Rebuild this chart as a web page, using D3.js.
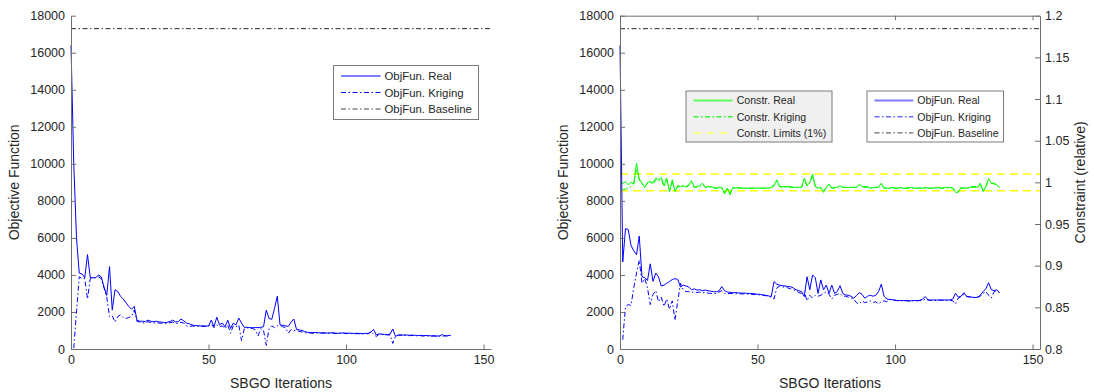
<!DOCTYPE html>
<html>
<head>
<meta charset="utf-8">
<script src="https://cdn.jsdelivr.net/npm/d3@7"></script>
<style>
  html, body { margin: 0; padding: 0; background: #fff; }
  svg { display: block; font-family: "Liberation Sans", Arial, sans-serif; }
</style>
</head>
<body>
<svg id="chart" width="1094" height="392"></svg>
<script>
// ---- data (iteration index = array position) ----
const xTicks = [0, 50, 100, 150];
const objTicks = [0, 2000, 4000, 6000, 8000, 10000, 12000, 14000, 16000, 18000];
const conTicks = [0.8, 0.85, 0.9, 0.95, 1, 1.05, 1.1, 1.15, 1.2];
const conTickLabels = ["0.8", "0.85", "0.9", "0.95", "1", "1.05", "1.1", "1.15", "1.2"];

const baselineObj = 17300;
const conLimits = [0.99, 1.01];

// run A (left panel)
const objRealA = [16400,10000,6000,4100,4050,3850,5100,3850,3850,3850,
 4000,3900,3350,2900,4450,2100,3200,3100,2850,2700,
 2500,2300,2150,2300,1550,1500,1500,1480,1560,1500,
 1470,1500,1460,1450,1430,1440,1480,1560,1460,1480,
 1620,1520,1400,1360,1300,1270,1260,1250,1250,1240,
 1240,1560,1200,1720,1300,1400,1200,1560,1110,1400,
 1300,1670,1400,1170,1170,1160,1150,1160,1150,1170,
 1200,2100,1650,1600,2200,2850,1300,1280,1250,1220,
 1450,1620,1060,1030,1000,940,900,890,880,900,
 880,870,880,860,870,880,860,850,860,870,
 850,860,850,840,850,840,830,850,840,900,
 1060,760,820,800,790,780,800,1080,680,760,
 760,750,760,740,750,740,730,740,720,730,
 720,710,720,700,710,780,700,720,740];

const objKrigA = [null,50,2000,3900,3800,3800,2700,3800,3850,3850,
 3900,3800,3300,2800,1750,1800,1450,1750,1850,1700,
 1650,1700,1750,2100,1500,1450,1420,1400,1480,1420,
 1400,1430,1400,1390,1380,1400,1420,1450,1400,1380,
 1450,1400,1250,1200,1250,1220,1220,1230,1220,1220,
 1230,1350,1150,1300,1200,1250,1100,1300,850,1250,
 1200,1300,450,1100,1150,1120,1100,1050,700,1100,
 1000,200,1100,1250,1150,1250,1280,1200,1150,850,
 1050,1000,1000,950,920,880,870,860,850,870,
 860,850,860,840,850,860,840,830,840,850,
 830,840,830,820,830,820,810,830,820,950,
 800,670,800,780,770,760,760,300,700,740,
 740,730,740,720,730,720,710,720,700,710,
 700,690,700,680,690,680,720,700,720];

// run B (right panel)
const objRealB = [16400,4700,6500,6450,5600,5300,5100,6100,3900,3850,
 3700,4600,3650,4100,3900,3400,3450,3550,3650,3750,
 3800,3760,3350,3450,3400,3350,3200,3250,3180,3200,
 3150,3180,3150,3120,3100,3090,3150,3370,3150,3080,
 3060,3040,3050,3030,3020,3020,3010,3000,2990,2980,
 2960,2950,2920,2900,2870,2830,3640,3500,3450,3420,
 3400,3380,3360,3300,3200,3150,3100,2830,3900,3200,
 4000,3850,3000,3730,3200,3450,3000,3450,3000,3100,
 3420,3000,2920,2900,2850,2740,2900,3040,2950,2740,
 2850,2900,2850,2900,3100,3500,2850,2700,2680,2660,
 2640,2610,2620,2610,2620,2600,2610,2620,2610,2630,
 2700,2830,2650,2640,2650,2640,2650,2640,2650,2640,
 2650,2700,3010,2800,2850,3040,2850,2820,2800,2780,
 2800,2900,3100,3250,3580,3200,3150,3200,3040];

const objKrigB = [null,500,2300,2400,2350,3300,4100,4800,3550,3800,
 3300,2400,2950,3150,2550,2800,2300,2700,2150,2600,
 1550,2600,3550,3200,3100,3100,3050,3100,3050,3080,
 3030,3060,3020,3000,3010,3000,3080,3150,3000,2980,
 3000,3000,2980,2990,2980,2970,2980,2960,2950,2940,
 2930,2920,2900,2880,2850,2800,2700,3300,3400,3350,
 3350,3300,3250,3200,3150,3050,3000,3100,2600,2900,
 2750,2900,2850,2900,3000,3100,2950,2700,2900,2950,
 3000,2850,2850,2800,2750,2700,2500,2430,2600,2500,
 2550,2600,2520,2550,2430,2550,2600,2550,2670,2650,
 2630,2610,2620,2600,2610,2590,2600,2610,2600,2620,
 2600,2700,2640,2630,2640,2630,2640,2630,2640,2630,
 2640,2600,2430,2750,2830,2950,2830,2810,2790,2770,
 2790,2850,3000,3100,2900,2750,3100,3150,3040];

const conReal = [1.0008,0.9985,1.001,0.997,1.000,0.998,1.023,1.004,0.999,0.994,
 1.000,1.001,0.999,1.005,1.003,1.006,0.996,1.005,0.989,1.003,
 0.989,0.996,0.995,0.996,0.995,0.997,1.002,0.994,0.995,0.996,
 0.999,0.994,0.995,0.995,0.994,0.993,0.994,0.994,0.986,0.993,
 0.985,0.994,0.993,0.994,0.993,0.993,0.993,0.993,0.993,0.993,
 0.993,0.993,0.993,0.993,0.993,0.994,0.997,1.003,0.995,0.995,
 0.995,0.995,0.995,0.994,0.994,0.994,0.994,1.005,0.996,1.000,
 1.010,0.995,0.993,0.994,0.988,0.994,0.998,0.993,0.994,0.994,
 0.996,0.994,0.994,0.994,0.994,0.994,0.994,0.998,0.995,0.995,
 0.995,0.993,0.994,0.994,0.994,0.999,0.993,0.993,0.993,0.994,
 0.993,0.993,0.994,0.993,0.993,0.994,0.994,0.993,0.993,0.993,
 0.993,0.994,0.993,0.993,0.993,0.994,0.994,0.993,0.994,0.994,
 0.994,0.993,0.988,0.988,0.994,0.993,0.993,0.994,0.995,0.995,
 0.994,0.999,0.989,0.995,1.0045,0.999,0.999,0.997,0.994];

const conKrig = [null,0.991,0.992,0.993,0.995,0.998,1.015,1.003,0.998,0.995,
 0.999,1.000,0.998,1.003,1.002,1.004,0.995,1.003,0.990,1.001,
 0.990,0.995,0.994,0.995,0.994,0.996,1.000,0.994,0.994,0.995,
 0.997,0.994,0.994,0.994,0.993,0.993,0.993,0.993,0.988,0.993,
 0.987,0.993,0.993,0.993,0.993,0.993,0.993,0.993,0.993,0.993,
 0.993,0.993,0.993,0.993,0.993,0.993,0.996,1.001,0.995,0.994,
 0.994,0.994,0.994,0.994,0.994,0.994,0.994,1.003,0.996,0.999,
 1.007,0.995,0.993,0.993,0.990,0.993,0.997,0.993,0.993,0.994,
 0.995,0.994,0.994,0.994,0.994,0.994,0.994,0.997,0.995,0.994,
 0.994,0.993,0.993,0.994,0.994,0.998,0.993,0.993,0.993,0.993,
 0.993,0.993,0.993,0.993,0.993,0.993,0.993,0.993,0.993,0.993,
 0.993,0.993,0.993,0.993,0.993,0.993,0.993,0.993,0.993,0.993,
 0.993,0.993,0.990,0.989,0.993,0.993,0.993,0.993,0.994,0.994,
 0.994,0.998,0.990,0.994,1.003,0.999,0.998,0.996,0.994];

// ---- styles ----
const BLUE = "#0000ff", GREEN = "#00ff00", YELLOW = "#ffff00", BASE = "#262626";
const AXIS = "#6e6e6e", TEXT = "#262626";
const DASHDOT = "5,2.5,1.5,2.5";
const DASHED = "8,5";

const svg = d3.select("#chart");
const xMax = 152.7;
const plotTop = 15.7, plotBottom = 349;

function styleAxis(g) {
  g.select(".domain").attr("stroke", AXIS).attr("stroke-width", 1);
  g.selectAll(".tick line").attr("stroke", AXIS);
  g.selectAll(".tick text").attr("fill", TEXT).style("font-size", "12.5px")
    .style("font-family", "'Liberation Sans', Arial, sans-serif");
}

function drawLine(g, data, x, y, color, dash, width) {
  const line = d3.line()
    .defined(d => d != null)
    .x((d, i) => x(i))
    .y(d => y(d));
  g.append("path")
    .attr("d", line(data))
    .attr("fill", "none")
    .attr("stroke", color)
    .attr("stroke-width", width || 1)
    .attr("stroke-dasharray", dash || null)
    .attr("stroke-linejoin", "round");
}

// boxed legend: opts = {x, y, w, h, fill, font, first, step, textDx}
function legend(g, o, items) {
  const lg = g.append("g");
  lg.append("rect").attr("x", o.x).attr("y", o.y).attr("width", o.w).attr("height", o.h)
    .attr("fill", o.fill).attr("stroke", "#7a7a7a").attr("stroke-width", 1);
  items.forEach((it, k) => {
    const yy = o.y + o.first + k * o.step;
    lg.append("line").attr("x1", o.x + 7.5).attr("x2", o.x + o.textDx - 4).attr("y1", yy).attr("y2", yy)
      .attr("stroke", it.color).attr("stroke-width", it.width)
      .attr("stroke-dasharray", it.dash || null);
    lg.append("text").attr("x", o.x + o.textDx).attr("y", yy + o.font * 0.36)
      .attr("fill", TEXT).style("font-size", o.font + "px").text(it.label);
  });
}

function yLabel(x, text, rot) {
  svg.append("text")
    .attr("transform", `translate(${x},${(plotTop + plotBottom) / 2}) rotate(${rot})`)
    .attr("text-anchor", "middle")
    .attr("fill", TEXT).style("font-size", "14px").text(text);
}

// ================= left panel =================
{
  const x = d3.scaleLinear([0, xMax], [71, 491]);
  const y = d3.scaleLinear([0, 18000], [plotBottom, plotTop]);
  const g = svg.append("g");

  g.append("line").attr("x1", x(0)).attr("x2", x(xMax)).attr("y1", y(baselineObj)).attr("y2", y(baselineObj))
    .attr("stroke", BASE).attr("stroke-dasharray", DASHDOT);
  drawLine(g, objKrigA, x, y, BLUE, DASHDOT, 1);
  drawLine(g, objRealA, x, y, BLUE, null, 1);

  g.append("g").attr("transform", `translate(0,${plotBottom})`)
    .call(d3.axisBottom(x).tickValues(xTicks).tickSizeInner(-4.5).tickSizeOuter(0).tickPadding(6).tickFormat(d3.format("d")))
    .call(styleAxis);
  g.append("g").attr("transform", `translate(71,0)`)
    .call(d3.axisLeft(y).tickValues(objTicks).tickSizeInner(-5).tickSizeOuter(0).tickPadding(6).tickFormat(d3.format("d")))
    .call(styleAxis);

  legend(g, { x: 333.5, y: 65.5, w: 145, h: 54, fill: "#ffffff", font: 11.4, first: 10.5, step: 16.5, textDx: 51 }, [
    { label: "ObjFun. Real", color: "#7d7dff", width: 2 },
    { label: "ObjFun. Kriging", color: BLUE, width: 1, dash: DASHDOT },
    { label: "ObjFun. Baseline", color: "#444", width: 1, dash: DASHDOT }
  ]);

  svg.append("text").attr("x", 281).attr("y", 388).attr("text-anchor", "middle")
    .attr("fill", TEXT).style("font-size", "14px").text("SBGO Iterations");
  yLabel(18.5, "Objective Function", -90);
}

// ================= right panel =================
{
  const x = d3.scaleLinear([0, xMax], [620, 1040]);
  const y = d3.scaleLinear([0, 18000], [plotBottom, plotTop]);
  const yc = d3.scaleLinear([0.8, 1.2], [plotBottom, plotTop]);
  const g = svg.append("g");

  conLimits.forEach(v => {
    g.append("line").attr("x1", x(0)).attr("x2", x(xMax)).attr("y1", yc(v)).attr("y2", yc(v))
      .attr("stroke", YELLOW).attr("stroke-width", 1.6).attr("stroke-dasharray", DASHED);
  });
  drawLine(g, conKrig, x, yc, GREEN, DASHDOT, 1);
  drawLine(g, conReal, x, yc, GREEN, null, 1);

  g.append("line").attr("x1", x(0)).attr("x2", x(xMax)).attr("y1", y(baselineObj)).attr("y2", y(baselineObj))
    .attr("stroke", BASE).attr("stroke-dasharray", DASHDOT);
  drawLine(g, objKrigB, x, y, BLUE, DASHDOT, 1);
  drawLine(g, objRealB, x, y, BLUE, null, 1);

  g.append("g").attr("transform", `translate(0,${plotBottom})`)
    .call(d3.axisBottom(x).tickValues(xTicks).tickSizeInner(-4.5).tickSizeOuter(0).tickPadding(6).tickFormat(d3.format("d")))
    .call(styleAxis);
  g.append("g").attr("transform", `translate(0,${plotTop})`)
    .call(d3.axisTop(x).tickValues(xTicks).tickSizeInner(-4.5).tickSizeOuter(0).tickFormat(""))
    .call(styleAxis);
  g.append("g").attr("transform", `translate(620,0)`)
    .call(d3.axisLeft(y).tickValues(objTicks).tickSizeInner(-5).tickSizeOuter(0).tickPadding(6).tickFormat(d3.format("d")))
    .call(styleAxis);
  g.append("g").attr("transform", `translate(1040,0)`)
    .call(d3.axisRight(yc).tickValues(conTicks).tickSizeInner(-5).tickSizeOuter(0).tickPadding(5)
      .tickFormat((d, i) => conTickLabels[i]))
    .call(styleAxis);

  legend(g, { x: 686, y: 91, w: 146, h: 51, fill: "#f0f0f0", font: 10.6, first: 9.5, step: 16.2, textDx: 50.7 }, [
    { label: "Constr. Real", color: "#5cff5c", width: 2 },
    { label: "Constr. Kriging", color: "#3cf03c", width: 1.5, dash: DASHDOT },
    { label: "Constr. Limits (1%)", color: "#ffff66", width: 1.5, dash: DASHED }
  ]);
  legend(g, { x: 867, y: 91, w: 136.5, h: 51, fill: "#ffffff", font: 10.6, first: 9.5, step: 16.2, textDx: 50.3 }, [
    { label: "ObjFun. Real", color: "#7d7dff", width: 2 },
    { label: "ObjFun. Kriging", color: "#6b6bff", width: 1.5, dash: DASHDOT },
    { label: "ObjFun. Baseline", color: "#444", width: 1, dash: DASHDOT }
  ]);

  svg.append("text").attr("x", 830).attr("y", 388).attr("text-anchor", "middle")
    .attr("fill", TEXT).style("font-size", "14px").text("SBGO Iterations");
  yLabel(568, "Objective Function", -90);
  yLabel(1085, "Constraint (relative)", -90);
}
</script>
</body>
</html>
